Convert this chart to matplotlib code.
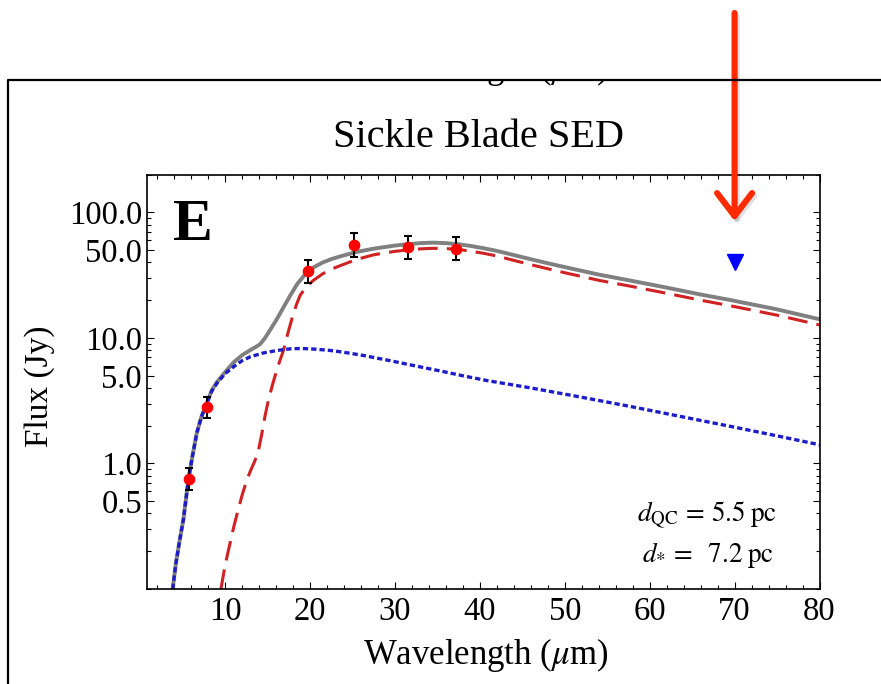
import matplotlib
matplotlib.use('Agg')
import matplotlib.pyplot as plt
import matplotlib.patheffects as pe
from matplotlib.lines import Line2D
from matplotlib.ticker import FixedLocator, FuncFormatter, NullFormatter
from matplotlib.transforms import Bbox, TransformedBbox

plt.rcParams['font.family'] = ['Liberation Serif', 'DejaVu Serif']
plt.rcParams['mathtext.fontset'] = 'stix'

# measured photometry (Jy)
pt_x = [5.7, 7.9, 19.7, 25.2, 31.5, 37.15]
pt_y = [0.75, 2.81, 34.1, 54.8, 52.8, 51.3]
pt_hi = [0.92, 3.41, 42.0, 68.2, 65.5, 63.4]
pt_lo = [0.61, 2.30, 27.6, 44.0, 42.8, 42.0]

# upper limit
lim_x = [70]
lim_y = [40.1]

# total model (grey solid)
total_x = [3.82, 4.2, 4.6, 5.08, 5.67, 6.1, 6.66, 7.2, 7.84, 8.4, 9.02, 10.0, 11.0,
           12.0, 12.95, 13.5, 14.1, 14.7, 15.3, 16.0, 16.9, 17.7, 18.5, 19.4, 20.4,
           21.5, 22.5, 23.6, 25.5, 27.5, 30.0, 31.5, 33.0, 34.5, 36.0, 37.5, 39.0,
           40.5, 42.0, 44.0, 46.0, 48.0, 50.0, 54.0, 57.8, 62.0, 66.0, 69.6, 75.0, 80.0]
total_y = [0.1, 0.16, 0.235, 0.358, 0.74, 1.1, 1.75, 2.35, 3.02, 3.8, 4.45, 5.35, 6.4,
           7.3, 8.0, 8.4, 8.9, 10.0, 11.6, 13.8, 17.7, 22.0, 27.0, 32.0, 36.5,
           40.0, 42.5, 44.8, 48.5, 51.5, 54.5, 55.9, 57.0, 57.5, 57.0, 55.8, 54.0,
           51.8, 49.4, 45.8, 42.4, 39.4, 36.7, 32.0, 28.6, 25.2, 22.2, 20.0, 16.9, 14.1]

# dust component (red dashed)
dust_x = [9.5, 10.0, 10.5, 11.0, 11.5, 12.0, 12.5, 13.0, 13.5, 13.9, 14.3, 14.7,
          15.1, 15.6, 16.2, 16.85, 17.4, 17.9, 18.4, 18.85, 19.6, 20.4, 21.5, 22.5,
          23.6, 25.5, 27.5, 30.0, 31.5, 33.0, 34.5, 36.0, 37.5, 39.0, 40.5, 42.0,
          44.0, 46.0, 48.0, 50.0, 54.0, 57.8, 62.0, 66.0, 69.6, 75.0, 80.0]
dust_y = [0.1, 0.155, 0.22, 0.31, 0.42, 0.56, 0.72, 0.88, 1.05, 1.25, 1.7, 2.4,
          3.2, 4.3, 5.9, 7.9, 11.0, 14.5, 18.5, 22.0, 25.8, 28.8, 32.5, 35.3,
          37.8, 42.3, 46.0, 49.0, 50.3, 51.3, 51.8, 51.6, 50.7, 49.1, 47.2, 45.0,
          41.5, 38.4, 35.6, 33.1, 28.8, 25.8, 22.7, 20.0, 18.0, 15.2, 12.7]

# hot component (blue dotted)
star_x = [3.82, 4.2, 4.6, 5.08, 5.67, 6.1, 6.66, 7.2, 7.84, 8.4, 9.02, 10.0, 11.0,
          12.0, 13.0, 14.5, 16.1, 17.7, 19.0, 20.6, 22.4, 23.6, 25.0, 26.5, 29.5,
          32.5, 35.4, 38.3, 40.9, 46.0, 52.0, 57.8, 63.5, 69.6, 75.0, 80.0]
star_y = [0.1, 0.16, 0.235, 0.358, 0.74, 1.1, 1.75, 2.35, 3.02, 3.75, 4.35, 5.2, 5.9,
          6.6, 7.1, 7.6, 7.95, 8.2, 8.25, 8.15, 7.95, 7.76, 7.5, 7.21, 6.58,
          5.97, 5.45, 4.95, 4.57, 4.0, 3.37, 2.84, 2.38, 1.97, 1.66, 1.41]

x_major = [10, 20, 30, 40, 50, 60, 70, 80]
x_minor = list(range(2, 80, 2))
y_major = [0.5, 1, 5, 10, 50, 100]
y_minor = [n * 10.0 ** k for k in (-1, 0, 1, 2) for n in range(1, 10)]

fig = plt.figure(figsize=(8.81, 6.84), dpi=100)
ax = fig.add_axes([0.1669, 0.1389, 0.7633, 0.6057])

ax.plot(total_x, total_y, color='#808080', lw=2.8)
dust_line, = ax.plot(dust_x, dust_y, color='#d02222', lw=2.2)
dust_line.set_dashes([6.5, 3])
star_line, = ax.plot(star_x, star_y, color='#1c1cc8', lw=2.4)
star_line.set_dashes([1.6, 0.9])

err_lo = [y - lo for y, lo in zip(pt_y, pt_lo)]
err_hi = [hi - y for y, hi in zip(pt_y, pt_hi)]
ax.errorbar(pt_x, pt_y, yerr=[err_lo, err_hi], fmt='o', color='#ff0000', ms=7.4,
            ecolor='black', elinewidth=1.5, capsize=2.9, capthick=1.5, zorder=5)
ax.plot(lim_x, lim_y, ls='none', marker='v', color='#0000ff', ms=11, zorder=5)

ax.set_yscale('log')
ax.set_xlim(0.8, 80)
ax.set_ylim(0.1, 200)
ax.xaxis.set_major_locator(FixedLocator(x_major))
ax.xaxis.set_minor_locator(FixedLocator(x_minor))
ax.yaxis.set_major_locator(FixedLocator(y_major))
ax.yaxis.set_minor_locator(FixedLocator(y_minor))
ax.yaxis.set_major_formatter(FuncFormatter(lambda v, p: '%.1f' % v))
ax.yaxis.set_minor_formatter(NullFormatter())
ax.tick_params(which='both', direction='in', top=True, right=True, width=0.8,
               labelsize=23.5)
ax.tick_params(which='major', length=5)
ax.tick_params(which='minor', length=3)
ax.tick_params(axis='x', pad=5.5)
ax.tick_params(axis='y', pad=3.6)
for sp in ax.spines.values():
    sp.set_linewidth(1.2)

ax.text(0.0387, 0.842, 'E', transform=ax.transAxes, fontsize=43, fontweight='bold',
        ha='left', va='baseline')
ax.text(0.7288, 0.1617, r'$d_{\mathrm{QC}}\,=\,5.5\;\mathrm{pc}$', transform=ax.transAxes,
        fontsize=19.5, ha='left', va='baseline')
ax.text(0.7362, 0.0652, r'$d_{*}\,=\;\ 7.2\;\mathrm{pc}$', transform=ax.transAxes,
        fontsize=19.5, ha='left', va='baseline')

fig.text(478 / 881, 1 - 147 / 684, 'Sickle Blade SED', ha='center', va='baseline',
         fontsize=29)
fig.text(486 / 881, 1 - 664 / 684, r'Wavelength ($\mu$m)', ha='center', va='baseline',
         fontsize=25)
fig.text(40 / 881, 1 - 386 / 684, 'Flux (Jy)', ha='center', va='center',
         rotation=90, fontsize=24)

# leftover of the panel above, cut by the frame
clip = TransformedBbox(Bbox([[0, 0], [1, 1 - 79 / 684]]), fig.transFigure)
rest = fig.text(486 / 881, 1 - 77.5 / 684, r'Wavelength ($\mu$m)', ha='center',
                va='baseline', fontsize=25)
rest.set_clip_box(clip)
rest.set_clip_on(True)

# frame
fig.add_artist(Line2D([8 / 881, 8 / 881, 1.0], [0.0, 1 - 80 / 684, 1 - 80 / 684],
                      transform=fig.transFigure, color='black', lw=1.6))

# red arrow pointing at the 70 micron limit
arr = ax.annotate('', xy=(70, 684 - 221), xytext=(70, 684 - 13),
                  xycoords=('data', 'figure pixels'), textcoords=('data', 'figure pixels'),
                  annotation_clip=False,
                  arrowprops=dict(arrowstyle='->, head_length=0.55, head_width=0.42',
                                  mutation_scale=30, color='#ff2a00', lw=4.4,
                                  shrinkA=0, shrinkB=0))
arr.arrow_patch.set_path_effects([pe.SimpleLineShadow(offset=(1.5, -2), shadow_color='k',
                                                      alpha=0.12),
                                  pe.Normal()])

fig.savefig('out.png', dpi=100)
